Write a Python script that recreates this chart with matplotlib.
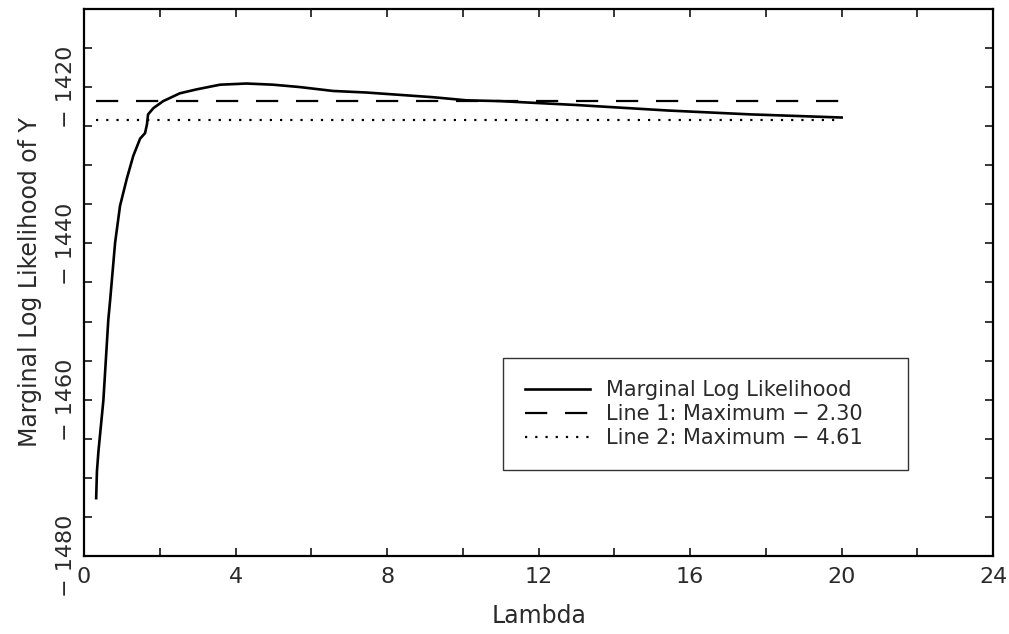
import numpy as np
import matplotlib
matplotlib.use("Agg")
import matplotlib.pyplot as plt
from matplotlib.ticker import MultipleLocator, FixedLocator

# values
lam = [0.32, 0.34, 0.38, 0.51, 0.64, 0.69, 0.82, 0.95, 1.13, 1.30, 1.48, 1.61,
       1.66, 1.69, 1.83, 2.09, 2.53, 2.97, 3.59, 4.29, 4.99, 5.69, 6.57, 7.45,
       8.33, 9.21, 10.1, 10.98, 13.0, 15.4, 17.6, 20.0]
loglik = [-1472.6, -1469.2, -1466.6, -1460.1, -1449.8, -1447.2, -1439.9, -1435.2,
          -1431.7, -1428.8, -1426.6, -1425.9, -1424.8, -1423.5, -1422.7, -1421.8,
          -1420.8, -1420.3, -1419.7, -1419.55, -1419.7, -1420.0, -1420.5, -1420.7,
          -1421.0, -1421.3, -1421.7, -1421.8, -1422.3, -1423.0, -1423.5, -1423.9]
drop1 = 2.30
drop2 = 4.61
xticks = [0, 4, 8, 12, 16, 20, 24]
yticks = [-1480, -1460, -1440, -1420]

plt.rcParams['font.family'] = ['DejaVu Sans']
txt = '#2a2a2a'

fig = plt.figure(figsize=(10.09, 6.34), dpi=100)
ax = fig.add_axes([0.0833, 0.123, 0.901, 0.863])

top = max(loglik)
ax.plot(lam, loglik, color='black', lw=1.9, label='Marginal Log Likelihood')
ax.plot([lam[0], lam[-1]], [top - drop1] * 2, color='black', lw=1.6,
        linestyle=(0, (10, 8)), label='Line 1: Maximum \u2212 2.30')
ax.plot([lam[0], lam[-1]], [top - drop2] * 2, color='black', lw=1.6,
        linestyle=(0, (1, 3.6)), label='Line 2: Maximum \u2212 4.61')

ax.set_xlim(0, 24)
ax.set_ylim(-1480, -1410)
ax.xaxis.set_major_locator(FixedLocator(xticks))
ax.xaxis.set_minor_locator(MultipleLocator(2))
ax.yaxis.set_major_locator(FixedLocator(yticks))
ax.yaxis.set_minor_locator(MultipleLocator(5))
ax.set_xticklabels([str(t) for t in xticks])
ax.set_yticklabels(['\u2212 ' + str(abs(t)) for t in yticks], rotation=90, va='center')

ax.tick_params(which='both', direction='in', top=True, right=True,
               length=6, width=1.1, labelsize=16, labelcolor=txt)
ax.tick_params(axis='x', pad=8)
ax.tick_params(axis='y', pad=6)
for s in ax.spines.values():
    s.set_linewidth(1.6)

ax.set_xlabel('Lambda', fontsize=17, color=txt, labelpad=12)
ax.set_ylabel('Marginal Log Likelihood of Y', fontsize=17, color=txt, labelpad=10)

leg = ax.legend(loc='upper left', bbox_to_anchor=(0.461, 0.152, 0.445, 0.21),
                mode='expand', fontsize=15, frameon=True, fancybox=False,
                handlelength=3.1, handletextpad=0.8, borderpad=1.05,
                labelspacing=0.2, borderaxespad=0)
leg.get_frame().set_edgecolor('black')
leg.get_frame().set_linewidth(1.0)
for t in leg.get_texts():
    t.set_color(txt)

fig.savefig('out.png', dpi=100)
